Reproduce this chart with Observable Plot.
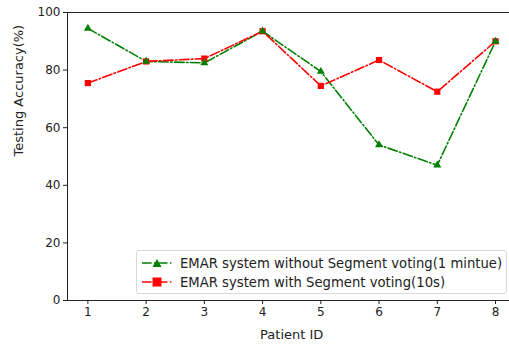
<!DOCTYPE html>
<html>
<head>
<meta charset="utf-8">
<script src="https://cdn.jsdelivr.net/npm/d3@7"></script>
<script src="https://cdn.jsdelivr.net/npm/@observablehq/plot@0.6"></script>
<style>
  html, body { margin: 0; padding: 0; background: #fff; }
  #wrap { position: relative; width: 509px; height: 346px; overflow: hidden; font-family: "DejaVu Sans", sans-serif; }
  #legend { position: absolute; left: 136px; top: 250px; width: 371px; height: 44px; box-sizing: border-box;
    border: 1px solid #d9d9d9; border-radius: 3px; background: rgba(255,255,255,0.8); font-size: 13.2px; color: #222; }
  .row { position: absolute; left: 5px; height: 18px; display: flex; align-items: center; }
  .row span { margin-left: 8px; white-space: nowrap; }
</style>
</head>
<body>
<div id="wrap"></div>
<script>
const patients = [1, 2, 3, 4, 5, 6, 7, 8];
const withoutVoting = [94.5, 83, 82.5, 93.5, 79.5, 54, 47, 90];
const withVoting = [75.5, 83, 84, 93.5, 74.5, 83.5, 72.5, 90];
const seriesNames = ["EMAR system without Segment voting(1 mintue)", "EMAR system with Segment voting(10s)"];
const seriesColors = ["#008000", "#ff0000"];
const seriesSymbols = ["triangle", "square"];
const yTicks = [0, 20, 40, 60, 80, 100];
const xDomain = [0.65, 8.24];

const data = [];
patients.forEach((p, i) => {
  data.push({patient: p, acc: withoutVoting[i], series: seriesNames[0]});
  data.push({patient: p, acc: withVoting[i], series: seriesNames[1]});
});

const dash = "9.6,2.4,1.5,2.4";

const plot = Plot.plot({
  width: 509,
  height: 346,
  marginLeft: 67,
  marginTop: 12,
  marginBottom: 46,
  marginRight: 0,
  style: {fontFamily: "DejaVu Sans, sans-serif", fontSize: "12px", color: "#222", background: "white"},
  x: {domain: xDomain},
  y: {domain: [0, 100]},
  color: {domain: seriesNames, range: seriesColors},
  symbol: {domain: seriesNames, range: seriesSymbols},
  marks: [
    Plot.axisX({ticks: patients, tickSize: 4, tickPadding: 3, tickFormat: d => d, label: null, fontSize: 12}),
    Plot.axisY({ticks: yTicks, tickSize: 4, tickPadding: 3, label: null, fontSize: 12}),
    Plot.text(["Patient ID"], {frameAnchor: "bottom", x: () => (xDomain[0] + 8.35) / 2, dy: 38, fontSize: 13, fill: "#222"}),
    Plot.text(["Testing Accuracy(%)"], {frameAnchor: "left", rotate: -90, dx: -49, fontSize: 13, fill: "#222"}),
    Plot.ruleY([0, 100], {stroke: "#222", strokeWidth: 1}),
    Plot.ruleX([xDomain[0]], {stroke: "#222", strokeWidth: 1}),
    Plot.line(data.filter(d => d.series === seriesNames[0]), {x: "patient", y: "acc", stroke: seriesColors[0], strokeWidth: 1.6, strokeDasharray: dash}),
    Plot.line(data.filter(d => d.series === seriesNames[1]), {x: "patient", y: "acc", stroke: seriesColors[1], strokeWidth: 1.6, strokeDasharray: dash}),
    Plot.dot(data, {x: "patient", y: "acc", fill: "series", symbol: "series", r: d => d.series === seriesNames[0] ? 3.9 : 5.3, stroke: "none"})
  ]
});

const wrap = document.getElementById("wrap");
wrap.appendChild(plot);

const legend = document.createElement("div");
legend.id = "legend";
seriesNames.forEach((name, i) => {
  const row = document.createElement("div");
  row.className = "row";
  row.style.top = (3 + i * 19) + "px";
  const c = seriesColors[i];
  const marker = i === 0
    ? `<path d="M15,4 L19.5,12 L10.5,12 Z" fill="${c}"/>`
    : `<rect x="10.5" y="3.5" width="9" height="9" fill="${c}"/>`;
  row.innerHTML = `<svg width="30" height="16"><line x1="0" x2="30" y1="8" y2="8" stroke="${c}" stroke-width="1.6" stroke-dasharray="${dash}"/>${marker}</svg><span>${name}</span>`;
  legend.appendChild(row);
});
wrap.appendChild(legend);
</script>
</body>
</html>
